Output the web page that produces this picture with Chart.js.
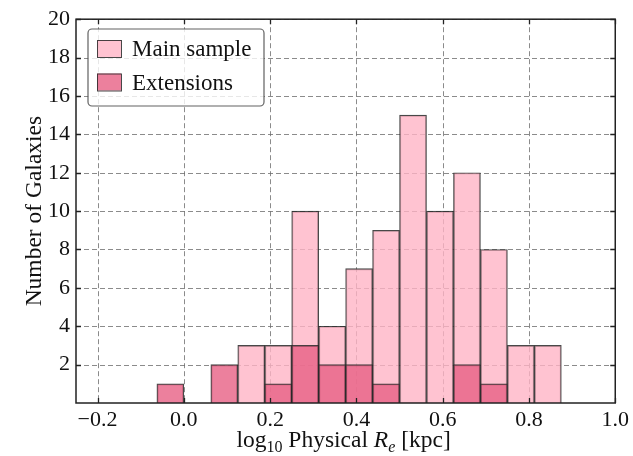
<!DOCTYPE html>
<html>
<head>
<meta charset="utf-8">
<script src="https://cdn.jsdelivr.net/npm/chart.js@4.4.1/dist/chart.umd.min.js"></script>
<style>
  html, body { margin: 0; padding: 0; background: #fff; }
  #wrap { width: 633px; height: 456px; }
</style>
</head>
<body>
<div id="wrap"><canvas id="hist"></canvas></div>
<script>
// bin centres (log10 Re, kpc), bin width 0.0625
const binCenters = [-0.03125, 0.03125, 0.09375, 0.15625, 0.21875, 0.28125, 0.34375, 0.40625,
                    0.46875, 0.53125, 0.59375, 0.65625, 0.71875, 0.78125, 0.84375];
const mainCounts = [null, null, null, 3, 3, 10, 4, 7, 9, 15, 10, 12, 8, 3, 3];
const extCounts  = [1, null, 2, null, 1, 3, 2, 2, 1, null, null, 2, 1, null, null];
const xTicks = [-0.2, 0.0, 0.2, 0.4, 0.6, 0.8, 1.0];
const yTicks = [2, 4, 6, 8, 10, 12, 14, 16, 18, 20];
const seriesNames = ['Main sample', 'Extensions'];

const mainColor = 'rgba(255,180,197,0.8)';
const extColor = 'rgba(231,96,133,0.8)';
const edgeColor = 'rgba(40,40,40,0.85)';
const serif = '"Liberation Serif", "DejaVu Serif", serif';

function toPts(vals) {
    return binCenters.map((c, i) => ({ x: c, y: vals[i] }));
}

// gridlines + inward ticks + frame, drawn by hand (matplotlib style)
const framePlugin = {
    id: 'frame',
    beforeDatasetsDraw(chart) {
        const { ctx, chartArea: a, scales } = chart;
        ctx.save();
        ctx.strokeStyle = 'rgba(110,110,110,0.8)';
        ctx.lineWidth = 1;
        ctx.setLineDash([5, 3]);
        xTicks.forEach(t => {
            const px = Math.round(scales.x.getPixelForValue(t)) + 0.5;
            ctx.beginPath(); ctx.moveTo(px, a.top); ctx.lineTo(px, a.bottom); ctx.stroke();
        });
        yTicks.forEach(t => {
            const py = Math.round(scales.y.getPixelForValue(t)) + 0.5;
            ctx.beginPath(); ctx.moveTo(a.left, py); ctx.lineTo(a.right, py); ctx.stroke();
        });
        ctx.restore();
    },
    afterDatasetsDraw(chart) {
        const { ctx, chartArea: a, scales } = chart;
        ctx.save();
        ctx.strokeStyle = '#222';
        ctx.lineWidth = 1.3;
        ctx.setLineDash([]);
        const tl = 5;
        xTicks.forEach(t => {
            const px = Math.round(scales.x.getPixelForValue(t)) + 0.5;
            ctx.beginPath();
            ctx.moveTo(px, a.bottom); ctx.lineTo(px, a.bottom - tl);
            ctx.moveTo(px, a.top); ctx.lineTo(px, a.top + tl);
            ctx.stroke();
        });
        yTicks.forEach(t => {
            const py = Math.round(scales.y.getPixelForValue(t)) + 0.5;
            ctx.beginPath();
            ctx.moveTo(a.left, py); ctx.lineTo(a.left + tl, py);
            ctx.moveTo(a.right, py); ctx.lineTo(a.right - tl, py);
            ctx.stroke();
        });
        ctx.lineWidth = 1.5;
        ctx.strokeRect(a.left, a.top, a.right - a.left, a.bottom - a.top);

        // legend box inside the axes
        const lx = 88, ly = 29, lw = 176, lh = 77;
        ctx.fillStyle = 'rgba(255,255,255,0.8)';
        ctx.strokeStyle = 'rgba(80,80,80,0.9)';
        ctx.lineWidth = 1.2;
        ctx.beginPath();
        ctx.roundRect(lx, ly, lw, lh, 4);
        ctx.fill(); ctx.stroke();
        const sw = [mainColor, extColor];
        ctx.font = '23px ' + serif;
        ctx.textBaseline = 'alphabetic';
        seriesNames.forEach((n, i) => {
            const sy = 40 + i * 33.5;
            ctx.fillStyle = sw[i];
            ctx.fillRect(97, sy, 24, 17);
            ctx.strokeStyle = edgeColor;
            ctx.lineWidth = 1;
            ctx.strokeRect(97.5, sy + 0.5, 24, 17);
            ctx.fillStyle = '#111';
            ctx.fillText(n, 132, sy + 16);
        });

        // x axis title with subscripts
        const parts = [
            { t: 'log', f: '23.5px ' + serif, dy: 0 },
            { t: '10', f: '16px ' + serif, dy: 5 },
            { t: ' Physical ', f: '23.5px ' + serif, dy: 0 },
            { t: 'R', f: 'italic 23.5px ' + serif, dy: 0 },
            { t: 'e', f: 'italic 16px ' + serif, dy: 5 },
            { t: ' [kpc]', f: '23.5px ' + serif, dy: 0 }
        ];
        let total = 0;
        parts.forEach(p => { ctx.font = p.f; p.w = ctx.measureText(p.t).width; total += p.w; });
        let cx = (a.left + a.right) / 2 - total / 2 - 2;
        const base = 447;
        ctx.fillStyle = '#111';
        parts.forEach(p => {
            ctx.font = p.f;
            ctx.fillText(p.t, cx, base + p.dy);
            cx += p.w;
        });
        ctx.restore();
    }
};

const ctx = document.getElementById('hist').getContext('2d');
new Chart(ctx, {
    type: 'bar',
    data: {
        datasets: [
            {
                label: seriesNames[1],
                data: toPts(extCounts),
                backgroundColor: extColor,
                borderColor: edgeColor,
                borderWidth: 1.2,
                order: 0
            },
            {
                label: seriesNames[0],
                data: toPts(mainCounts),
                backgroundColor: mainColor,
                borderColor: edgeColor,
                borderWidth: 1.2,
                order: 1
            }
        ]
    },
    options: {
        responsive: true,
        maintainAspectRatio: false,
        animation: false,
        layout: { padding: { top: 16, right: 17, left: 0, bottom: 0 } },
        datasets: {
            bar: { grouped: false, barPercentage: 1, categoryPercentage: 1 }
        },
        plugins: {
            legend: { display: false },
            tooltip: { enabled: false }
        },
        scales: {
            x: {
                type: 'linear',
                offset: false,
                min: -0.25,
                max: 1.0,
                afterBuildTicks: s => { s.ticks = xTicks.map(v => ({ value: v })); },
                afterFit: s => { s.height = 53; },
                grid: { display: false, offset: false, drawTicks: false, tickLength: 0 },
                border: { display: false },
                ticks: {
                    padding: 4,
                    color: '#111',
                    font: { family: serif, size: 22 },
                    callback: v => (v < 0 ? '\u2212' : '') + Math.abs(v).toFixed(1)
                }
            },
            y: {
                min: 0,
                max: 20,
                afterBuildTicks: s => { s.ticks = yTicks.map(v => ({ value: v })); },
                afterFit: s => { s.width = 76; },
                grid: { display: false, drawTicks: false, tickLength: 0 },
                border: { display: false },
                ticks: {
                    padding: 6,
                    color: '#111',
                    font: { family: serif, size: 22 }
                },
                title: {
                    display: true,
                    text: 'Number of Galaxies',
                    color: '#111',
                    font: { family: serif, size: 23.5 },
                    padding: { top: 21, bottom: 0 }
                }
            }
        }
    },
    plugins: [framePlugin]
});
</script>
</body>
</html>
